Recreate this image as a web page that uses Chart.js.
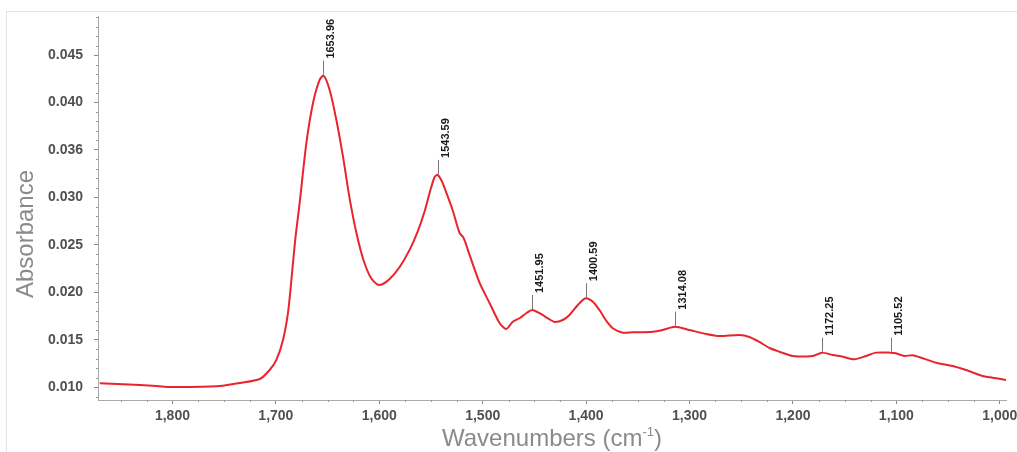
<!DOCTYPE html>
<html>
<head>
<meta charset="utf-8">
<script src="https://cdn.jsdelivr.net/npm/chart.js@4.4.1/dist/chart.umd.min.js"></script>
<style>
  html, body { margin: 0; padding: 0; background: #fff; overflow: hidden; }
  #frame { position: absolute; left: 6px; top: 11px; width: 1100px; height: 500px; border: 1px solid #e2e2e2; }
  #wrap { position: absolute; left: 0; top: 0; width: 1017px; height: 452px; }
</style>
</head>
<body>
<div id="frame"></div>
<div id="wrap"><canvas id="chart" width="1017" height="452"></canvas></div>
<script>
// ── Spectrum data ──
const wavenumbers = [
  1870.3, 1847.7, 1815.5, 1802.6, 1783.3, 1757.5, 1751.4, 1735.0, 1715.6, 1706.0,
  1699.5, 1693.1, 1688.3, 1685.0, 1681.3, 1677.0, 1670.5, 1664.1, 1657.7, 1653.8,
  1648.0, 1641.5, 1635.1, 1628.7, 1622.0, 1615.0, 1608.0, 1602.0, 1597.0, 1590.0,
  1580.3, 1570.7, 1562.9, 1556.0, 1550.5, 1546.5, 1543.6, 1539.5, 1535.2, 1529.1,
  1522.4, 1518.5, 1512.7, 1503.0, 1493.4, 1483.7, 1477.2, 1470.9, 1464.4, 1457.9,
  1452.1, 1445.1, 1435.4, 1430.5, 1422.5, 1416.1, 1408.0, 1400.6, 1393.5, 1387.1,
  1380.6, 1374.2, 1364.6, 1354.9, 1335.6, 1326.0, 1314.0, 1300.1, 1283.9, 1271.1,
  1251.8, 1242.1, 1232.4, 1222.7, 1213.1, 1200.3, 1180.9, 1171.9, 1161.6, 1151.9,
  1140.6, 1129.3, 1119.7, 1105.9, 1100.4, 1092.4, 1084.3, 1074.6, 1061.7, 1045.6,
  1032.7, 1016.7, 1007.0, 994.0
];
const absorbance = [
  0.01042, 0.01032, 0.01014, 0.01003, 0.01003, 0.01011, 0.01017, 0.01045, 0.01087, 0.01182,
  0.01288, 0.01498, 0.01783, 0.02130, 0.02552, 0.02942, 0.03574, 0.03995, 0.04238, 0.04283,
  0.04132, 0.03816, 0.03429, 0.02990, 0.02620, 0.02330, 0.02150, 0.02085, 0.02085, 0.02140,
  0.02267, 0.02447, 0.02640, 0.02860, 0.03080, 0.03215, 0.03237, 0.03170, 0.03050, 0.02868,
  0.02626, 0.02573, 0.02394, 0.02099, 0.01888, 0.01677, 0.01614, 0.01691, 0.01727, 0.01780,
  0.01814, 0.01780, 0.01716, 0.01688, 0.01709, 0.01762, 0.01867, 0.01938, 0.01902, 0.01814,
  0.01702, 0.01622, 0.01575, 0.01579, 0.01586, 0.01604, 0.01638, 0.01604, 0.01562, 0.01540,
  0.01551, 0.01530, 0.01477, 0.01414, 0.01375, 0.01330, 0.01330, 0.01365, 0.01340, 0.01322,
  0.01295, 0.01330, 0.01365, 0.01365, 0.01358, 0.01330, 0.01337, 0.01306, 0.01259, 0.01224,
  0.01182, 0.01119, 0.01101, 0.01077
];

// ── Peak picks ──
const peakWavenumbers = [1653.96, 1543.59, 1451.95, 1400.59, 1314.08, 1172.25, 1105.52];
const peakAbsorbance  = [0.04283, 0.03237, 0.01814, 0.01938, 0.01638, 0.01365, 0.01365];
const peakLabels      = ['1653.96', '1543.59', '1451.95', '1400.59', '1314.08', '1172.25', '1105.52'];

// ── Axis ticks ──
const xTickValues = [1800, 1700, 1600, 1500, 1400, 1300, 1200, 1100, 1000];
const xTickLabels = ['1,800', '1,700', '1,600', '1,500', '1,400', '1,300', '1,200', '1,100', '1,000'];
const yTickValues = [0.010, 0.015, 0.020, 0.025, 0.030, 0.035, 0.040, 0.045];
const yTickLabels = ['0.010', '0.015', '0.020', '0.025', '0.030', '0.036', '0.040', '0.045'];

const FONT = '"Liberation Sans", Arial, Helvetica, sans-serif';

// minor ticks, peak markers and axis titles
const overlay = {
  id: 'overlay',
  afterDraw(chart) {
    const { ctx, chartArea: a, scales: { x, y } } = chart;
    ctx.save();

    // minor ticks
    ctx.strokeStyle = '#999';
    ctx.lineWidth = 1;
    ctx.beginPath();
    for (let v = 1000; v <= 1850; v += 25) {
      if (v % 100 === 0) continue;
      const px = Math.round(x.getPixelForValue(v)) + 0.5;
      ctx.moveTo(px, a.bottom); ctx.lineTo(px, a.bottom + 2);
    }
    for (let i = 9; i <= 49; i++) {
      if (i % 5 === 0) continue;
      const py = Math.round(y.getPixelForValue(i / 1000)) + 0.5;
      ctx.moveTo(a.left - 2, py); ctx.lineTo(a.left, py);
    }
    ctx.stroke();

    // peak markers
    ctx.font = 'bold 11px ' + FONT;
    peakWavenumbers.forEach((w, i) => {
      const px = Math.round(x.getPixelForValue(w)) + 0.5;
      const py = y.getPixelForValue(peakAbsorbance[i]);
      ctx.strokeStyle = '#777';
      ctx.beginPath();
      ctx.moveTo(px, py - 1); ctx.lineTo(px, py - 15);
      ctx.stroke();
      ctx.save();
      ctx.translate(px + 7, py - 17);
      ctx.rotate(-Math.PI / 2);
      ctx.fillStyle = '#1a1a1a';
      ctx.textAlign = 'left';
      ctx.textBaseline = 'middle';
      ctx.fillText(peakLabels[i], 0, 0);
      ctx.restore();
    });

    // y title
    ctx.fillStyle = '#8a8a8a';
    ctx.font = '24px ' + FONT;
    ctx.save();
    ctx.translate(26, 234);
    ctx.rotate(-Math.PI / 2);
    ctx.textAlign = 'center';
    ctx.textBaseline = 'middle';
    ctx.fillText('Absorbance', 0, 0);
    ctx.restore();

    // x title with superscript
    const main = 'Wavenumbers (cm', sup = '-1', close = ')';
    ctx.font = '24px ' + FONT;
    const w1 = ctx.measureText(main).width, w3 = ctx.measureText(close).width;
    ctx.font = '13px ' + FONT;
    const w2 = ctx.measureText(sup).width;
    const cx = (a.left + a.right) / 2, base = 446;
    const sx = cx - (w1 + w2 + w3) / 2;
    ctx.textAlign = 'left';
    ctx.textBaseline = 'alphabetic';
    ctx.font = '24px ' + FONT;
    ctx.fillText(main, sx, base);
    ctx.font = '13px ' + FONT;
    ctx.fillText(sup, sx + w1, base - 10);
    ctx.font = '24px ' + FONT;
    ctx.fillText(close, sx + w1 + w2, base);

    ctx.restore();
  }
};

new Chart(document.getElementById('chart'), {
  type: 'line',
  data: {
    datasets: [{
      data: wavenumbers.map((w, i) => ({ x: w, y: absorbance[i] })),
      borderColor: '#e8242c', borderWidth: 2,
      pointRadius: 0, tension: 0.25, fill: false,
    }]
  },
  options: {
    responsive: false, animation: false, devicePixelRatio: 1,
    layout: { padding: { top: 16, right: 11, bottom: 0, left: 0 } },
    plugins: { legend: { display: false }, tooltip: { enabled: false } },
    scales: {
      x: {
        type: 'linear', reverse: true, min: 994, max: 1872,
        afterBuildTicks: s => { s.ticks = xTickValues.map(v => ({ value: v })); },
        afterFit: s => { s.height = 52; s.paddingLeft = 0; s.paddingRight = 0; },
        grid: { drawOnChartArea: false, tickLength: 4, tickColor: '#888' },
        border: { color: '#aaa' },
        ticks: {
          color: '#505050', font: { size: 14, family: FONT, weight: 'bold' }, padding: 4,
          maxRotation: 0, autoSkip: false,
          callback: (v, i) => xTickLabels[i],
        },
      },
      y: {
        min: 0.00866, max: 0.04911,
        afterBuildTicks: s => { s.ticks = yTickValues.map(v => ({ value: v })); },
        afterFit: s => { s.width = 98; s.paddingTop = 0; s.paddingBottom = 0; },
        grid: { drawOnChartArea: false, tickLength: 4, tickColor: '#888' },
        border: { color: '#aaa' },
        ticks: {
          color: '#505050', font: { size: 14, family: FONT, weight: 'bold' }, padding: 11,
          autoSkip: false,
          callback: (v, i) => yTickLabels[i],
        },
      },
    },
  },
  plugins: [overlay],
});
</script>
</body>
</html>
